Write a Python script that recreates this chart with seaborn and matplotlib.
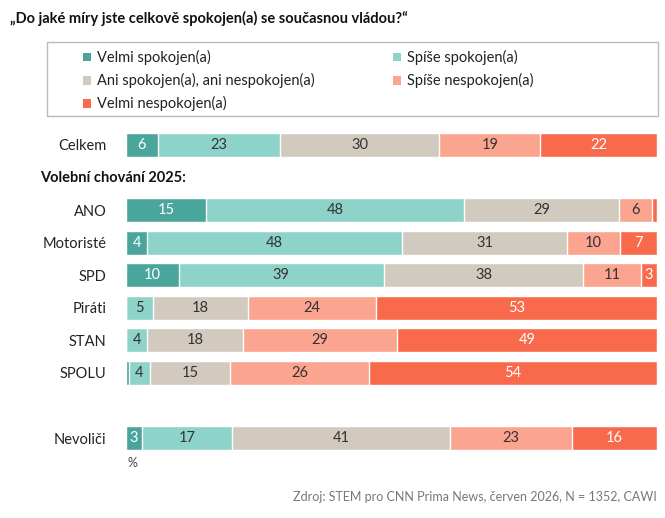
import matplotlib
matplotlib.use("Agg")
import matplotlib.pyplot as plt
from matplotlib.patches import Patch, Rectangle
import numpy as np
import pandas as pd
import seaborn as sns

# data
rows = ["Celkem", "ANO", "Motoristé", "SPD", "Piráti", "STAN", "SPOLU", "Nevoliči"]
answers = ["Velmi spokojen(a)", "Spíše spokojen(a)", "Ani spokojen(a), ani nespokojen(a)",
           "Spíše nespokojen(a)", "Velmi nespokojen(a)"]
velmi_spok = [6, 15, 4, 10, 0, 0, 0.5, 3]
spise_spok = [23, 48, 48, 39, 5, 4, 4, 17]
ani_ani = [30, 29, 31, 38, 18, 18, 15, 41]
spise_nesp = [19, 6, 10, 11, 24, 29, 26, 23]
velmi_nesp = [22, 1, 7, 3, 53, 49, 54, 16]

colors = ["#4AA69C", "#8ED3C9", "#D2CABF", "#FBA48F", "#F96A4C"]
text_colors = ["white", "#333333", "#333333", "#333333", "white"]

# slots on the axis (blank ones for heading and gap)
slots = ["Celkem", "_head", "ANO", "Motoristé", "SPD", "Piráti", "STAN", "SPOLU", "_gap", "Nevoliči"]

vals = np.array([velmi_spok, spise_spok, ani_ani, spise_nesp, velmi_nesp], dtype=float).T
shares = vals / vals.sum(axis=1, keepdims=True) * 100
cum = shares.cumsum(axis=1)
df = pd.DataFrame(cum, columns=answers)
df["row"] = rows

sns.set_style("white")
plt.rcParams["font.family"] = ["Lato", "DejaVu Sans"]

fig = plt.figure(figsize=(6.65, 5.18), dpi=100)
ax = fig.add_axes([126 / 665, 1 - 454.3 / 518, (657 - 126) / 665, (454.3 - 128.7) / 518])

# stacked bars: draw cumulative totals from the last layer to the first
for j in range(len(answers) - 1, -1, -1):
    sns.barplot(data=df, x=answers[j], y="row", order=slots, orient="h",
                color=colors[j], saturation=1, width=0.74,
                edgecolor="white", linewidth=1, ax=ax)

# value labels
for i, r in enumerate(rows):
    yi = slots.index(r)
    for j in range(len(answers)):
        v = vals[i, j]
        if v < 2:
            continue
        start = cum[i, j] - shares[i, j]
        ax.text(start + shares[i, j] / 2, yi, f"{v:g}", ha="center", va="center",
                fontsize=10.5, color=text_colors[j])

ax.set_xlim(0, 100)
ax.set_xlabel("")
ax.set_ylabel("")
ax.set_xticks([])
ax.set_yticks(range(len(slots)))
ax.set_yticklabels([s if not s.startswith("_") else "" for s in slots],
                   fontsize=10.5, color="#222222")
ax.tick_params(axis="y", length=0, pad=14)
sns.despine(ax=ax, left=True, bottom=True)

# heading inside the chart
fig.text(40 / 665, 1 - 178 / 518, "Volební chování 2025:", fontsize=10.5,
         fontweight="bold", ha="left", va="center", color="#111111")

# title
fig.text(10 / 665, 1 - 18 / 518, "„Do jaké míry jste celkově spokojen(a) se současnou vládou?“",
         fontsize=10.5, fontweight="bold", ha="left", va="center", color="#111111")

# legend box
fig.patches.append(Rectangle((47 / 665, 1 - 116 / 518), (658 - 47) / 665, 74 / 518,
                             transform=fig.transFigure, fill=False,
                             edgecolor="#BBBBBB", linewidth=1))
handles = [Patch(facecolor=c, edgecolor="none") for c in colors]
order = [0, 2, 4, 1, 3]
fig.legend([handles[k] for k in order], [answers[k] for k in order],
           ncol=2, frameon=False, loc="upper left",
           bbox_to_anchor=(70 / 665, 1 - 37 / 518), fontsize=10.5,
           handlelength=0.55, handleheight=0.55, handletextpad=0.4,
           columnspacing=5.4, labelspacing=0.55, labelcolor="#222222")

# percent sign and source
fig.text(127 / 665, 1 - 463 / 518, "%", fontsize=9, color="#444444", ha="left", va="center")
fig.text(657 / 665, 1 - 497 / 518, "Zdroj: STEM pro CNN Prima News, červen 2026, N = 1352, CAWI",
         fontsize=9, color="#777777", ha="right", va="center")

fig.savefig("out.png", dpi=100)
